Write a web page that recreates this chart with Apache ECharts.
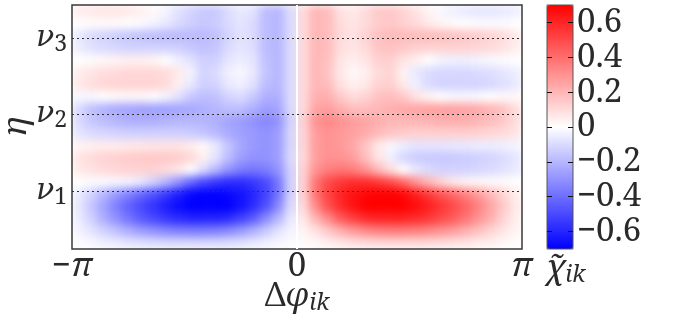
<!DOCTYPE html>
<html>
<head>
<meta charset="utf-8">
<script src="https://cdn.jsdelivr.net/npm/echarts@6/dist/echarts.min.js"></script>
<style>
  html, body { margin: 0; padding: 0; background: #fff; }
  #wrap { position: relative; width: 678px; height: 323px; }
  #heatClip { position: absolute; left: 72px; top: 5px; width: 450px; height: 244px; overflow: hidden; }
  #heat { width: 450px; height: 244px; filter: blur(4.5px); }
  #chart { position: absolute; left: 0; top: 0; width: 678px; height: 323px; }
</style>
</head>
<body>
<div id="wrap">
  <div id="heatClip"><div id="heat"></div></div>
  <div id="chart"></div>
</div>
<script>
// x: phase difference -pi..pi split in 36 columns, y: eta split in 20 rows (bottom -> top)
const nCols = 36;
const nRows = 20;
const xTicks = [-Math.PI, 0, Math.PI];
const xTickLabels = ['{r|−}{i|π}', '{r|0}', '{i|π}'];
const nuLevels = [1, 2, 3];
const nuLabels = ['1', '2', '3'];
const etaMin = 0.24;
const etaMax = 3.43;
const colorTicks = [-0.6, -0.4, -0.2, 0, 0.2, 0.4, 0.6];

// chi_ik, one row per eta band, from bottom to top
const chiRows = [
  [-0.01,-0.02,-0.04,-0.05,-0.07,-0.08,-0.09,-0.1,-0.1,-0.1,-0.1,-0.1,-0.09,-0.08,-0.06,-0.04,-0.02,-0.01, 0.01,0.02,0.04,0.06,0.08,0.09,0.1,0.1,0.1,0.1,0.1,0.09,0.08,0.07,0.05,0.04,0.02,0.01],
  [-0.03,-0.07,-0.12,-0.17,-0.22,-0.27,-0.3,-0.33,-0.35,-0.36,-0.36,-0.35,-0.32,-0.28,-0.22,-0.15,-0.08,-0.03, 0.03,0.08,0.15,0.22,0.28,0.32,0.35,0.36,0.36,0.35,0.33,0.3,0.27,0.22,0.17,0.12,0.07,0.03],
  [-0.05,-0.12,-0.22,-0.3,-0.38,-0.45,-0.5,-0.55,-0.58,-0.6,-0.6,-0.6,-0.58,-0.52,-0.45,-0.32,-0.2,-0.06, 0.06,0.2,0.32,0.45,0.52,0.58,0.6,0.6,0.6,0.58,0.55,0.5,0.45,0.38,0.3,0.22,0.12,0.05],
  [-0.06,-0.15,-0.25,-0.35,-0.43,-0.5,-0.56,-0.62,-0.67,-0.7,-0.7,-0.7,-0.7,-0.65,-0.58,-0.48,-0.32,-0.1, 0.1,0.32,0.48,0.58,0.65,0.7,0.7,0.7,0.7,0.67,0.62,0.56,0.5,0.43,0.35,0.25,0.15,0.06],
  [-0.05,-0.12,-0.2,-0.28,-0.35,-0.42,-0.48,-0.55,-0.62,-0.68,-0.7,-0.7,-0.68,-0.65,-0.6,-0.52,-0.38,-0.12, 0.12,0.38,0.52,0.6,0.65,0.68,0.7,0.7,0.68,0.62,0.55,0.48,0.42,0.35,0.28,0.2,0.12,0.05],
  [0.0,-0.01,-0.01,-0.02,-0.03,-0.06,-0.12,-0.2,-0.3,-0.42,-0.5,-0.55,-0.58,-0.58,-0.55,-0.5,-0.38,-0.12, 0.12,0.38,0.5,0.55,0.58,0.58,0.55,0.5,0.42,0.3,0.2,0.12,0.06,0.03,0.02,0.01,0.01,0.0],
  [0.06,0.08,0.1,0.11,0.12,0.12,0.12,0.1,0.06,0.0,-0.1,-0.2,-0.3,-0.36,-0.38,-0.36,-0.3,-0.12, 0.12,0.3,0.36,0.38,0.36,0.3,0.2,0.1,0.0,-0.06,-0.1,-0.12,-0.12,-0.12,-0.11,-0.1,-0.08,-0.06],
  [0.07,0.1,0.12,0.13,0.14,0.15,0.15,0.15,0.14,0.11,0.04,-0.07,-0.18,-0.27,-0.3,-0.3,-0.27,-0.1, 0.1,0.27,0.3,0.3,0.27,0.18,0.07,-0.04,-0.11,-0.14,-0.15,-0.15,-0.15,-0.14,-0.13,-0.12,-0.1,-0.07],
  [0.03,0.04,0.05,0.05,0.06,0.06,0.07,0.07,0.07,0.05,0.02,-0.06,-0.16,-0.24,-0.28,-0.3,-0.27,-0.11, 0.11,0.27,0.3,0.28,0.24,0.16,0.06,-0.02,-0.05,-0.07,-0.07,-0.07,-0.06,-0.06,-0.05,-0.05,-0.04,-0.03],
  [-0.07,-0.1,-0.11,-0.12,-0.13,-0.13,-0.13,-0.13,-0.13,-0.14,-0.16,-0.19,-0.23,-0.26,-0.28,-0.3,-0.27,-0.11, 0.11,0.27,0.3,0.28,0.26,0.23,0.19,0.16,0.14,0.13,0.13,0.13,0.13,0.13,0.12,0.11,0.1,0.07],
  [-0.1,-0.15,-0.18,-0.2,-0.22,-0.22,-0.22,-0.21,-0.2,-0.2,-0.2,-0.22,-0.25,-0.27,-0.3,-0.33,-0.3,-0.12, 0.12,0.3,0.33,0.3,0.27,0.25,0.22,0.2,0.2,0.2,0.21,0.22,0.22,0.22,0.2,0.18,0.15,0.1],
  [-0.1,-0.17,-0.21,-0.24,-0.25,-0.26,-0.26,-0.26,-0.25,-0.24,-0.22,-0.2,-0.18,-0.18,-0.22,-0.27,-0.25,-0.1, 0.1,0.25,0.27,0.22,0.18,0.18,0.2,0.22,0.24,0.25,0.26,0.26,0.26,0.25,0.24,0.21,0.17,0.1],
  [-0.02,-0.02,0.0,0.01,0.02,0.02,0.0,-0.03,-0.08,-0.15,-0.18,-0.17,-0.12,-0.1,-0.15,-0.22,-0.22,-0.1, 0.1,0.22,0.22,0.15,0.1,0.12,0.17,0.18,0.15,0.08,0.03,0.0,-0.02,-0.02,-0.01,0.0,0.02,0.02],
  [0.06,0.09,0.11,0.12,0.12,0.12,0.12,0.1,0.04,-0.06,-0.13,-0.12,-0.06,-0.04,-0.08,-0.18,-0.2,-0.1, 0.1,0.2,0.18,0.08,0.04,0.06,0.12,0.13,0.06,-0.04,-0.1,-0.12,-0.12,-0.12,-0.12,-0.11,-0.09,-0.06],
  [0.05,0.07,0.09,0.1,0.11,0.11,0.11,0.1,0.06,-0.03,-0.12,-0.1,-0.04,-0.02,-0.06,-0.16,-0.2,-0.1, 0.1,0.2,0.16,0.06,0.02,0.04,0.1,0.12,0.03,-0.06,-0.1,-0.11,-0.11,-0.11,-0.1,-0.09,-0.07,-0.05],
  [0.0,0.01,0.02,0.03,0.04,0.04,0.03,0.0,-0.04,-0.08,-0.13,-0.13,-0.07,-0.05,-0.07,-0.17,-0.2,-0.1, 0.1,0.2,0.17,0.07,0.05,0.07,0.13,0.13,0.08,0.04,0.0,-0.03,-0.04,-0.04,-0.03,-0.02,-0.01,0.0],
  [-0.05,-0.08,-0.1,-0.11,-0.12,-0.12,-0.12,-0.12,-0.13,-0.15,-0.17,-0.16,-0.1,-0.07,-0.09,-0.18,-0.2,-0.1, 0.1,0.2,0.18,0.09,0.07,0.1,0.16,0.17,0.15,0.13,0.12,0.12,0.12,0.12,0.11,0.1,0.08,0.05],
  [-0.06,-0.1,-0.12,-0.14,-0.16,-0.17,-0.18,-0.19,-0.19,-0.19,-0.19,-0.17,-0.12,-0.08,-0.1,-0.18,-0.2,-0.1, 0.1,0.2,0.18,0.1,0.08,0.12,0.17,0.19,0.19,0.19,0.19,0.18,0.17,0.16,0.14,0.12,0.1,0.06],
  [0.0,0.01,0.01,0.01,0.0,-0.01,-0.03,-0.06,-0.1,-0.13,-0.15,-0.14,-0.1,-0.07,-0.1,-0.18,-0.2,-0.1, 0.1,0.2,0.18,0.1,0.07,0.1,0.14,0.15,0.13,0.1,0.06,0.03,0.01,0.0,-0.01,-0.01,-0.01,0.0],
  [0.05,0.06,0.07,0.07,0.06,0.04,0.02,-0.03,-0.08,-0.12,-0.15,-0.15,-0.1,-0.06,-0.08,-0.18,-0.2,-0.1, 0.1,0.2,0.18,0.08,0.06,0.1,0.15,0.15,0.12,0.08,0.03,-0.02,-0.04,-0.06,-0.07,-0.07,-0.06,-0.05]
];

const serif = 'Noto Serif';
const greekSerif = 'DejaVu Serif';
const ink = '#2a2a2a';
const big = 33;
const small = 23;
const bwr = ['#0000ff', '#ffffff', '#ff0000'];

const colIds = Array.from({ length: nCols }, (v, k) => k);
const rowIds = Array.from({ length: nRows }, (v, k) => k);

const heatData = [];
chiRows.forEach((row, j) => {
  row.forEach((val, i) => heatData.push([i, j, val]));
});

// rich text styles for math labels: i = italic, r = upright, g = nu, s/n = subscripts
const mathRich = {
  i: { fontFamily: serif, fontStyle: 'italic', fontSize: big, color: ink, lineHeight: 36 },
  r: { fontFamily: serif, fontSize: big, color: ink, lineHeight: 36 },
  g: { fontFamily: greekSerif, fontStyle: 'italic', fontSize: 30, color: ink, lineHeight: 36 },
  s: { fontFamily: serif, fontStyle: 'italic', fontSize: small, color: ink, lineHeight: 24,
       verticalAlign: 'bottom', padding: [20, 0, 0, 0] },
  n: { fontFamily: serif, fontSize: small, color: ink, lineHeight: 24,
       verticalAlign: 'bottom', padding: [20, 0, 0, 0] }
};

function colorLabel(v) {
  if (v === 0) return '0';
  return (v < 0 ? '−' : '') + Math.abs(v).toFixed(1);
}

// the colour field, softened by a css blur on its own layer
const heatChart = echarts.init(document.getElementById('heat'), null, { renderer: 'canvas' });
heatChart.setOption({
  animation: false,
  grid: { left: 0, right: 0, top: 0, bottom: 0, outerBoundsMode: 'none' },
  xAxis: { type: 'category', data: colIds, show: false },
  yAxis: { type: 'category', data: rowIds, show: false },
  visualMap: { type: 'continuous', show: false, min: -0.7, max: 0.7, inRange: { color: bwr } },
  series: [{
    type: 'heatmap', data: heatData, progressive: 0,
    itemStyle: { borderWidth: 0 }, emphasis: { disabled: true }
  }]
});

// axes, frame, guide lines and colour bar
const chart = echarts.init(document.getElementById('chart'), null, { renderer: 'canvas' });

const option = {
  animation: false,
  textStyle: { fontFamily: serif },
  grid: [
    { left: 72, top: 5, width: 450, height: 244, show: true, z: 3, outerBoundsMode: 'none',
      backgroundColor: 'rgba(0,0,0,0)', borderColor: '#383838', borderWidth: 1.5 },
    { left: 547, top: 5, width: 26, height: 244, show: true, z: 6, outerBoundsMode: 'none',
      backgroundColor: 'rgba(0,0,0,0)', borderColor: '#555', borderWidth: 1 }
  ],
  xAxis: [
    {
      gridIndex: 0, type: 'value', min: -Math.PI, max: Math.PI,
      axisLine: { show: false }, axisTick: { show: false }, splitLine: { show: false },
      axisLabel: {
        customValues: xTicks, margin: 0,
        formatter: v => xTickLabels[xTicks.findIndex(t => Math.abs(t - v) < 1e-6)],
        rich: mathRich
      },
      name: '{r|Δ}{i|φ}{s|ik}', nameLocation: 'middle', nameGap: 30, nameMoveOverlap: false,
      nameTextStyle: { rich: mathRich }
    },
    {
      gridIndex: 1, type: 'value', min: 0, max: 1,
      axisLine: { show: false }, axisTick: { show: false }, splitLine: { show: false },
      axisLabel: { show: false },
      name: '{i|χ\u0303}{s|ik}', nameLocation: 'middle', nameGap: 2, nameMoveOverlap: false,
      nameTextStyle: { rich: mathRich, padding: [0, 0, 0, 12] }
    }
  ],
  yAxis: [
    {
      gridIndex: 0, type: 'value', min: etaMin, max: etaMax,
      axisLine: { show: false }, axisTick: { show: false }, splitLine: { show: false },
      axisLabel: {
        customValues: nuLevels, margin: 5,
        formatter: v => '{g|ν}{n|' + nuLabels[nuLevels.indexOf(v)] + '}',
        rich: mathRich
      },
      name: 'η', nameLocation: 'middle', nameRotate: 90, nameGap: 39, nameMoveOverlap: false,
      nameTextStyle: { fontFamily: serif, fontStyle: 'italic', fontSize: big, color: ink }
    },
    {
      gridIndex: 1, type: 'value', min: -0.7, max: 0.7, position: 'left', z: 8,
      axisLine: { show: false }, splitLine: { show: false }, axisLabel: { show: false },
      axisTick: { show: true, inside: true, length: 5, customValues: colorTicks,
                  lineStyle: { color: '#111', width: 1 } }
    },
    {
      gridIndex: 1, type: 'value', min: -0.7, max: 0.7, position: 'right', z: 8,
      axisLine: { show: false }, splitLine: { show: false },
      axisTick: { show: true, inside: true, length: 5, customValues: colorTicks,
                  lineStyle: { color: '#111', width: 1 } },
      axisLabel: { customValues: colorTicks, margin: 4, formatter: colorLabel,
                   fontFamily: serif, fontSize: big, color: ink }
    }
  ],
  visualMap: {
    type: 'continuous', seriesIndex: [], min: -0.7, max: 0.7,
    left: 547, top: 5, itemWidth: 26, itemHeight: 244, padding: 0,
    calculable: false, hoverLink: false,
    inRange: { color: bwr }
  },
  series: [
    {
      type: 'line', xAxisIndex: 0, yAxisIndex: 0, data: [], silent: true,
      markLine: {
        silent: true, symbol: ['none', 'none'], label: { show: false },
        lineStyle: { color: '#ffffff', width: 2, type: 'solid' },
        data: [{ xAxis: 0 }]
      }
    },
    {
      type: 'line', xAxisIndex: 0, yAxisIndex: 0, data: [], silent: true,
      markLine: {
        silent: true, symbol: ['none', 'none'], label: { show: false },
        lineStyle: { color: '#333', width: 1.2, type: [2, 3] },
        data: nuLevels.map(v => ({ yAxis: v }))
      }
    }
  ]
};

chart.setOption(option);
</script>
</body>
</html>
